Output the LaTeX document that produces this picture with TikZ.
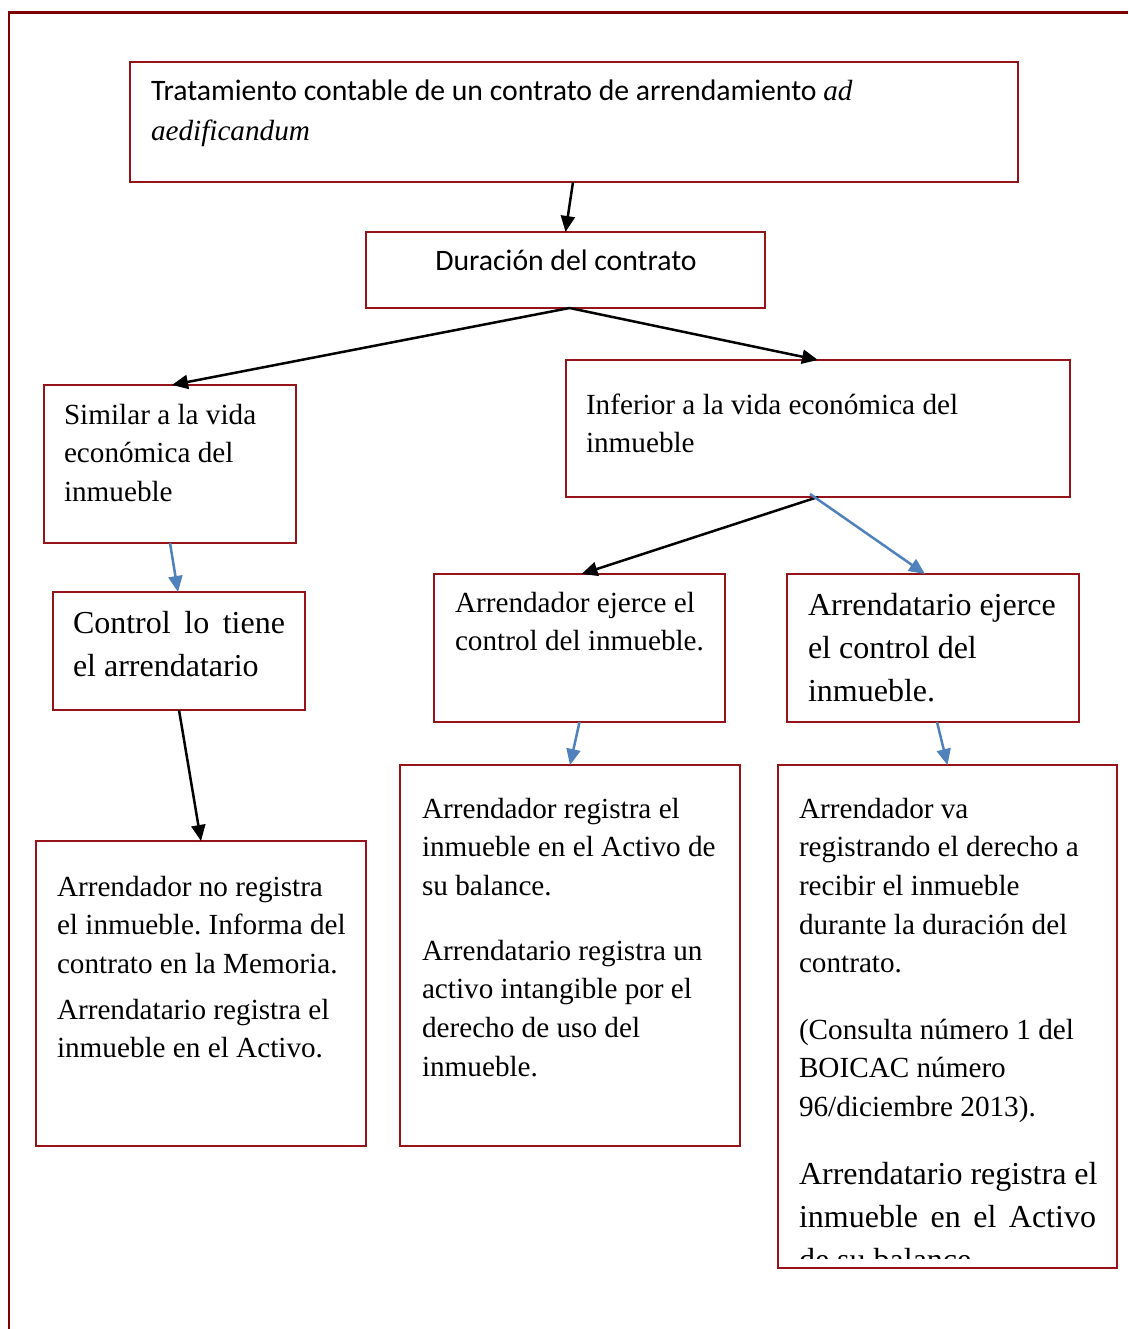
\documentclass[tikz,border=0pt]{standalone}
\usepackage{fontspec}
\setmainfont{Liberation Serif}
\newfontfamily\calfont{Carlito}
\newfontfamily\timesfont{Liberation Serif}
\usetikzlibrary{arrows.meta}
\definecolor{boxred}{RGB}{150,20,25}
\definecolor{framered}{RGB}{125,0,0}
\definecolor{arrowblue}{RGB}{79,129,189}
\frenchspacing
\tikzset{
  box/.style={draw=boxred, line width=2pt, inner sep=0pt, outer sep=0pt, fill=white},
  txt/.style={inner sep=0pt, outer sep=0pt, anchor=base west, align=flush left, text width=#1},
  txt/.default=340pt,
  sr/.style={font=\frenchspacing\fontsize{29.2}{38.7}\selectfont},
  srbig/.style={font=\frenchspacing\fontsize{32}{43}\selectfont},
  cal/.style={font=\frenchspacing\calfont\fontsize{29.7}{40}\selectfont},
  blk/.style={draw=black, line width=2.5pt, -{Triangle[length=16pt,width=14pt]}},
  blu/.style={draw=arrowblue, line width=2.5pt, -{Triangle[length=16pt,width=14pt]}},
}
\begin{document}
\begin{tikzpicture}[x=1pt,y=-1pt]
\useasboundingbox[fill=white] (0,0) rectangle (1128,1329);
% outer frame
\draw[framered, line width=2.2pt] (9,1329) -- (9,12.5) -- (1128,12.5);

% boxes
\node[box, minimum width=888pt, minimum height=120pt] (b1) at (574,122) {};
\node[box, minimum width=399pt, minimum height=76pt] (b2) at (565.5,270) {};
\node[box, minimum width=252pt, minimum height=158pt] (b3) at (170,464) {};
\node[box, minimum width=504pt, minimum height=137pt] (b4) at (818,428.5) {};
\node[box, minimum width=252pt, minimum height=118pt] (b5) at (179,651) {};
\node[box, minimum width=291pt, minimum height=148pt] (b6) at (579.5,648) {};
\node[box, minimum width=292pt, minimum height=148pt] (b7) at (933,648) {};
\node[box, minimum width=330pt, minimum height=305pt] (b8) at (201,993.5) {};
\node[box, minimum width=340pt, minimum height=381pt] (b9) at (570,955.5) {};
\node[box, minimum width=339pt, minimum height=503pt] (b10) at (947.5,1016.5) {};

% texts
\node[txt=880pt, cal] (t1) at (151,101) {Tratamiento contable de un contrato de arrendamiento {\timesfont\itshape\fontsize{29.2}{40}\selectfont ad}\\{\timesfont\itshape\fontsize{29.2}{40}\selectfont aedificandum}};
\node[cal, inner sep=0pt, anchor=base] (t2) at (566,271) {Duración del contrato};
\node[txt=240pt, sr] (t3) at (64,424) {Similar a la vida\\económica del\\inmueble};
\node[txt=480pt, sr] (t4) at (586,414) {Inferior a la vida económica del\\inmueble};
\node[txt=240pt, srbig] (t5) at (73,633) {\makebox[212pt][s]{Control lo tiene}\\el arrendatario};
\node[txt=280pt, sr] (t6) at (455,612) {Arrendador ejerce el\\control del inmueble.};
\node[txt=280pt, srbig] (t7) at (808,615) {Arrendatario ejerce\\el control del\\inmueble.};
\node[txt=320pt, sr] (t8a) at (57,896) {Arrendador no registra\\el inmueble. Informa del\\contrato en la Memoria.};
\node[txt=320pt, sr] (t8b) at (57,1019) {Arrendatario registra el\\inmueble en el Activo.};
\node[txt=330pt, sr] (t9a) at (422,818) {Arrendador registra el\\inmueble en el Activo de\\su balance.};
\node[txt=330pt, sr] (t9b) at (422,960) {Arrendatario registra un\\activo intangible por el\\derecho de uso del\\inmueble.};
\node[txt=330pt, sr] (t10a) at (799,818) {Arrendador va\\registrando el derecho a\\recibir el inmueble\\durante la duración del\\contrato.};
\node[txt=330pt, sr] (t10b) at (799,1039) {(Consulta número 1 del\\BOICAC número\\96/diciembre 2013).};
\begin{scope}
  \clip (780,1140) rectangle (1115,1258);
  \node[txt=330pt, srbig] (t10c) at (799,1184) {Arrendatario registra el\\\makebox[297pt][s]{inmueble en el Activo}\\de su balance.};
\end{scope}

% connectors
\draw[blk] ([xshift=-1pt]b1.south) -- (b2.north);
\draw[blk] ([xshift=4pt]b2.south) -- ([xshift=2pt]b3.north);
\draw[blk] ([xshift=4pt]b2.south) -- (b4.north);
\draw[blu] (b3.south) -- ([xshift=-1pt]b5.north);
\draw[blk] (b4.south) -- ([xshift=2pt]b6.north);
\draw[blu] ([xshift=-8pt,yshift=3pt]b4.south) -- ([xshift=-8pt]b7.north);
\draw[blk] (b5.south) -- (b8.north);
\draw[blu] (b6.south) -- (b9.north);
\draw[blu] ([xshift=4pt]b7.south) -- (b10.north);
\end{tikzpicture}
\end{document}
